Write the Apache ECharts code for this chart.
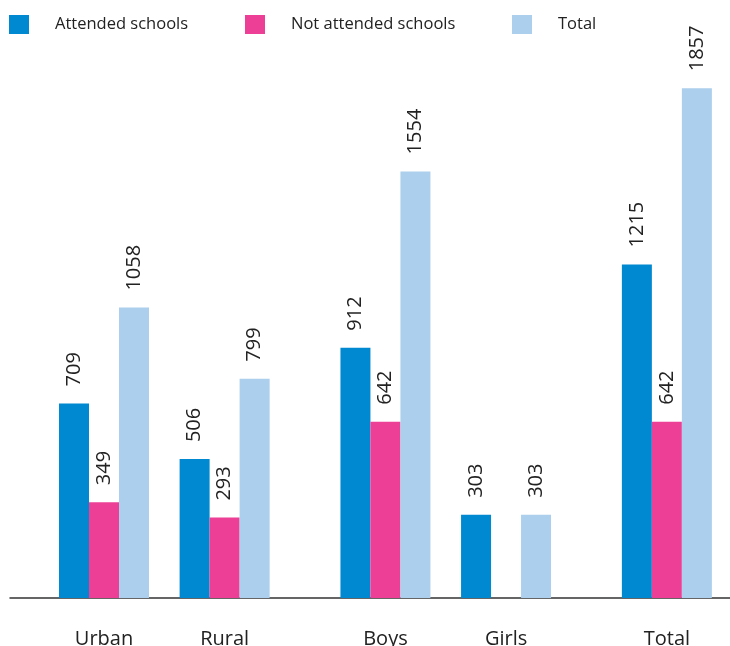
<!DOCTYPE html>
<html>
<head>
<meta charset="utf-8">
<script src="https://cdn.jsdelivr.net/npm/echarts@6/dist/echarts.min.js"></script>
<style>html,body{margin:0;padding:0;background:#fff}#c{width:730px;height:646px}</style>
</head>
<body>
<div id="c"></div>
<script>
// Category names and their positions along the x axis (groups are separated by wider gaps)
const categories = ['Urban', 'Rural', 'Boys', 'Girls', 'Total'];
const categoryPositions = [0, 3, 7, 10, 14];
const seriesNames = ['Attended schools', 'Not attended schools', 'Total'];
const attended = [709, 506, 912, 303, 1215];
const notAttended = [349, 293, 642, null, 642];
const totals = [1058, 799, 1554, 303, 1857];

const colors = ['#0089D0', '#EE3F96', '#ABCFEC'];
const FONT = '"Open Sans", "Noto Sans", sans-serif';

function toPoints(vals) {
  return vals.map((v, i) => [categoryPositions[i], v == null ? '-' : v]);
}

const labelCfg = {
  show: true,
  position: 'top',
  rotate: 90,
  align: 'left',
  verticalAlign: 'middle',
  distance: 17,
  fontSize: 20,
  fontFamily: FONT,
  color: '#222'
};

function mkSeries(name, vals, color) {
  return {
    name: name,
    type: 'bar',
    data: toPoints(vals),
    barWidth: 30,
    barGap: '0%',
    itemStyle: { color: color },
    label: labelCfg,
    emphasis: { disabled: true }
  };
}

function mkLegend(name, left, pad) {
  return {
    data: [name],
    left: left,
    top: 15,
    padding: 0,
    icon: 'rect',
    itemWidth: 20,
    itemHeight: 19,
    selectedMode: false,
    textStyle: { fontSize: 16.5, fontFamily: FONT, color: '#222', padding: [0, 0, 0, pad] }
  };
}

const chart = echarts.init(document.getElementById('c'), null, { renderer: 'canvas' });
chart.setOption({
  animation: false,
  color: colors,
  legend: [
    mkLegend(seriesNames[0], 9, 21),
    mkLegend(seriesNames[1], 245, 21),
    mkLegend(seriesNames[2], 512, 21)
  ],
  grid: { left: 10, right: 0, top: 49, bottom: 48, containLabel: false, outerBoundsMode: 'none' },
  xAxis: {
    type: 'value',
    min: -2.338,
    max: 15.57,
    splitLine: { show: false },
    axisTick: { show: false },
    axisLine: { show: true, onZero: false, lineStyle: { color: '#333', width: 1.5 } },
    axisLabel: {
      customValues: categoryPositions,
      formatter: function (v) {
        const i = categoryPositions.indexOf(Math.round(v));
        return i >= 0 ? categories[i] : '';
      },
      margin: 31,
      fontSize: 20,
      fontFamily: FONT,
      color: '#222'
    }
  },
  yAxis: {
    type: 'value',
    min: 0,
    max: 2000,
    show: false,
    splitLine: { show: false }
  },
  series: [
    mkSeries(seriesNames[0], attended, colors[0]),
    mkSeries(seriesNames[1], notAttended, colors[1]),
    mkSeries(seriesNames[2], totals, colors[2])
  ]
});
</script>
</body>
</html>
